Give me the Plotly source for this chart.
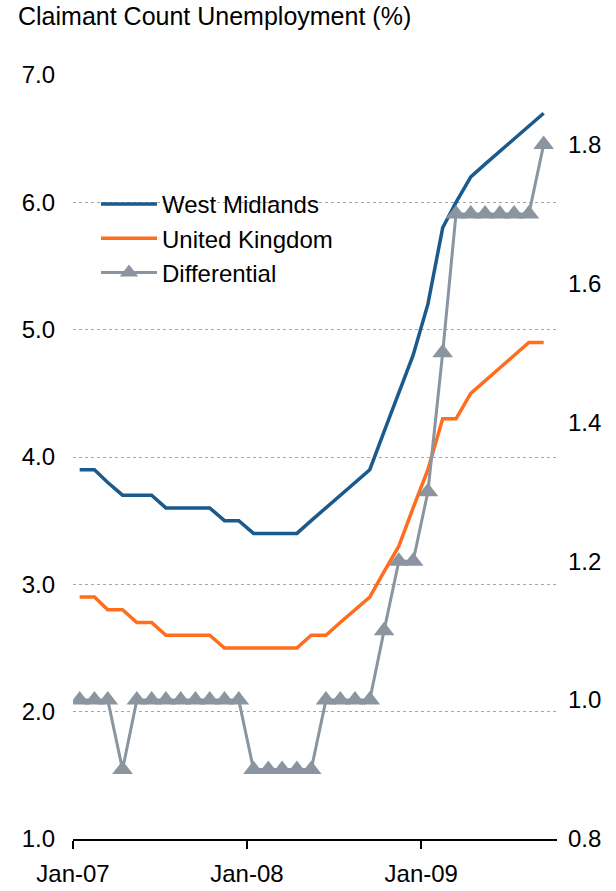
import pandas as pd
import plotly.graph_objects as go

# === DATA (monthly, Jan-07 to Sep-09) ===
months = pd.date_range("2007-01-01", periods=33, freq="MS") + pd.Timedelta(days=14)

west_midlands = [3.9, 3.9, 3.8, 3.7, 3.7, 3.7, 3.6, 3.6, 3.6, 3.6, 3.5, 3.5,
                 3.4, 3.4, 3.4, 3.4, 3.5, 3.6, 3.7, 3.8, 3.9, 4.2, 4.5, 4.8,
                 5.2, 5.8, 6.0, 6.2, 6.3, 6.4, 6.5, 6.6, 6.7]
united_kingdom = [2.9, 2.9, 2.8, 2.8, 2.7, 2.7, 2.6, 2.6, 2.6, 2.6, 2.5, 2.5,
                  2.5, 2.5, 2.5, 2.5, 2.6, 2.6, 2.7, 2.8, 2.9, 3.1, 3.3, 3.6,
                  3.9, 4.3, 4.3, 4.5, 4.6, 4.7, 4.8, 4.9, 4.9]
differential = [1.0, 1.0, 1.0, 0.9, 1.0, 1.0, 1.0, 1.0, 1.0, 1.0, 1.0, 1.0,
                0.9, 0.9, 0.9, 0.9, 0.9, 1.0, 1.0, 1.0, 1.0, 1.1, 1.2, 1.2,
                1.3, 1.5, 1.7, 1.7, 1.7, 1.7, 1.7, 1.7, 1.8]

left_ticks = [1, 2, 3, 4, 5, 6, 7]
right_ticks = [0.8, 1.0, 1.2, 1.4, 1.6, 1.8]

# === STYLE ===
FONT = "Liberation Sans, Arial, sans-serif"
BLUE = "#1B5A8C"
ORANGE = "#FF6D1F"
GREY = "#8A959F"

fig = go.Figure()
fig.add_trace(go.Scatter(x=months, y=west_midlands, name="West Midlands",
                         mode="lines", line=dict(color=BLUE, width=3.5)))
fig.add_trace(go.Scatter(x=months, y=united_kingdom, name="United Kingdom",
                         mode="lines", line=dict(color=ORANGE, width=3.5)))
fig.add_trace(go.Scatter(x=months, y=differential, name="Differential", yaxis="y2",
                         mode="lines+markers", line=dict(color=GREY, width=3),
                         marker=dict(symbol="triangle-up", size=18, color=GREY)))

fig.update_layout(
    width=616, height=891,
    margin=dict(l=73, r=59, t=75, b=52, autoexpand=False),
    paper_bgcolor="white", plot_bgcolor="white",
    font=dict(family=FONT, size=24, color="black"),
    showlegend=True,
    legend=dict(x=0.0475, y=0.86, xanchor="left", yanchor="top",
                bgcolor="rgba(0,0,0,0)", font=dict(size=24), itemwidth=56),
    title=dict(text="Claimant Count Unemployment (%)", x=18 / 616, xref="container",
               xanchor="left", y=1 - 7 / 891, yref="container", yanchor="top",
               pad=dict(t=0, b=0, l=0, r=0), font=dict(size=25)),
    xaxis=dict(type="date", range=["2007-01-01", "2009-10-13"],
               tick0="2007-01-01", dtick="M12", tickformat="%b-%y",
               showline=True, linecolor="black", linewidth=2,
               ticks="outside", ticklen=8, tickwidth=2, tickcolor="black",
               ticklabelstandoff=4, showgrid=False, zeroline=False,
               automargin=False),
    yaxis=dict(range=[1, 7], tickvals=left_ticks, tickformat=".1f",
               showgrid=True, gridcolor="#A6A6A6", griddash="dot", gridwidth=1,
               showline=False, zeroline=False, ticks="", ticklabelstandoff=17,
               automargin=False),
    yaxis2=dict(range=[0.8, 1.9], tickvals=right_ticks, tickformat=".1f",
                overlaying="y", side="right", showgrid=False, showline=False,
                zeroline=False, ticks="", ticklabelstandoff=10, automargin=False),
)

# drop the page's default body margin so the figure fills the window exactly
fig.write_html("out.html", config={"displayModeBar": False},
               post_script="document.body.style.margin = '0';")
